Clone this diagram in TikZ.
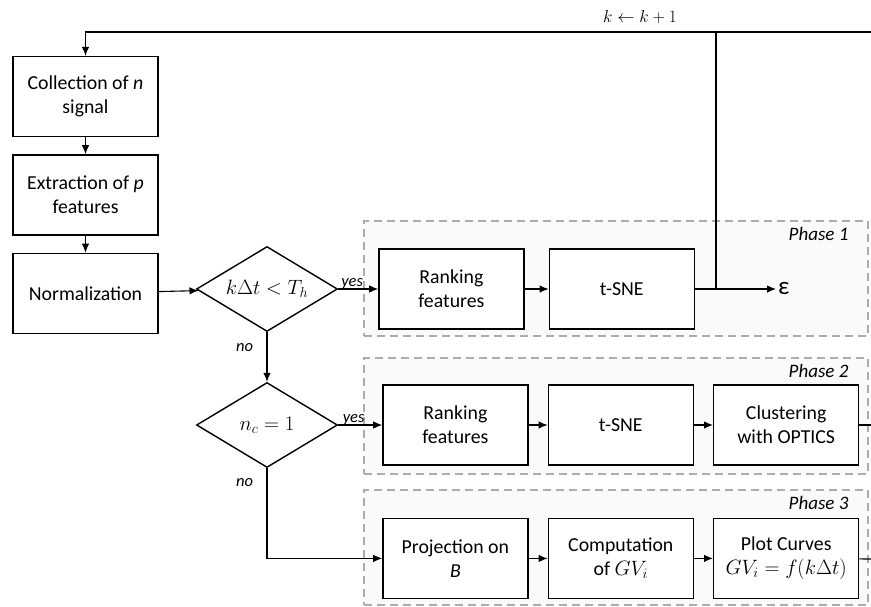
\documentclass[tikz,border=0pt]{standalone}
\usepackage{fontspec}
\setmainfont{Carlito}
\usepackage{tikz}
\usetikzlibrary{arrows.meta}
\usetikzlibrary{shapes.geometric}
\usetikzlibrary{positioning}
\newcommand{\lbl}[1]{\textit{#1}}
\tikzset{
  block/.style={draw, line width=1.4pt, fill=white, align=center, minimum width=#1, minimum height=80pt, inner sep=2pt, font=\fontsize{19.8}{24}\selectfont},
  block/.default=145pt,
  decision/.style={draw, diamond, aspect=1.66, line width=1.4pt, fill=white, minimum width=141pt, minimum height=85pt, inner sep=0pt, font=\fontsize{21}{24}\selectfont},
  phase/.style={draw=gray!65, dash pattern=on 8pt off 5pt, line width=1.3pt, fill=gray!4, minimum width=504pt, minimum height=#1, inner sep=0pt},
  phase/.default=115pt,
  tag/.style={font=\fontsize{16.5}{18}\selectfont\itshape},
  phasetag/.style={font=\fontsize{19}{20}\selectfont\itshape, inner sep=0pt},
  flow/.style={-{Latex[length=9pt,width=7.5pt]}, line width=1.1pt},
  wire/.style={line width=1.1pt},
}

\begin{document}
\begin{tikzpicture}[x=1pt, y=-1pt, node distance=17pt]
  \useasboundingbox (0,0) rectangle (871,606);

  % dashed phase frames
  \node[phase] (ph1) at (616,278.5) {};
  \node[phase=116pt] (ph2) at (616,416) {};
  \node[phase] (ph3) at (616,547.5) {};
  \node[phasetag, below left=7pt and 20pt of ph1.north east] (lab1) {Phase 1};
  \node[phasetag, below left=7pt and 20pt of ph2.north east] (lab2) {Phase 2};
  \node[phasetag, below left=7pt and 20pt of ph3.north east] (lab3) {Phase 3};

  % left column
  \node[block] (coll) at (85.5,96.5) {Collection of \lbl{n}\\signal};
  \node[block, below=of coll] (extr) {Extraction of \lbl{p}\\features};
  \node[block, below=of extr] (norm) {Normalization};
  \draw[flow] (coll) -- (extr);
  \draw[flow] (extr) -- (norm);

  % phase 1
  \node[decision] (dec1) at (267,289) {$k\Delta t < T_h$};
  \node[block, right=40pt of dec1] (rank1) {Ranking\\features};
  \node[block, right=24pt of rank1] (tsne1) {t-SNE};
  \node[font=\fontsize{25}{26}\selectfont, inner sep=2pt, anchor=west] (eps) at (776,289) {ε};
  \draw[flow] (norm) -- (dec1);
  \draw[flow] (dec1) -- node[tag, pos=0.35, above=-4pt] {yes} (rank1);
  \draw[flow] (rank1) -- (tsne1);
  \draw[flow] (tsne1) -- (eps);

  % loop back
  \coordinate (jn) at (716,289);
  \coordinate (tp) at (716,32);
  \coordinate (rt) at (871,32);
  \node[font=\fontsize{18}{18}\selectfont] (kinc) at (640,17) {$k \leftarrow k+1$};
  \draw[flow] (jn) -- (tp) -| (coll);
  \draw[wire] (tp) -- (rt);

  % phase 2
  \node[decision] (dec2) at (267,425) {$n_c = 1$};
  \node[block, right=44pt of dec2] (rank2) {Ranking\\features};
  \node[block, right=19pt of rank2] (tsne2) {t-SNE};
  \node[block, right=19pt of tsne2] (clus) {Clustering\\with OPTICS};
  \coordinate (out2) at (871,425);
  \draw[flow] (dec1) -- node[tag, pos=0.31, left=10pt] {no} (dec2);
  \draw[flow] (dec2) -- node[tag, pos=0.35, above=-4pt] {yes} (rank2);
  \draw[flow] (rank2) -- (tsne2);
  \draw[flow] (tsne2) -- (clus);
  \draw[wire] (clus) -- (out2);

  % phase 3
  \node[block, below=52pt of rank2] (proj) {Projection on\\\lbl{B}};
  \node[block, right=19pt of proj] (comp) {Computation\\of $GV_i$};
  \node[block, right=19pt of comp] (plot) {Plot Curves\\$GV_i = f(k\Delta t)$};
  \coordinate (out3) at (871,559);
  \draw[flow] (dec2) |- node[tag, pos=0.08, left=10pt] {no} (proj);
  \draw[flow] (proj) -- (comp);
  \draw[flow] (comp) -- (plot);
  \draw[wire] (plot) -- (out3);
\end{tikzpicture}
\end{document}
